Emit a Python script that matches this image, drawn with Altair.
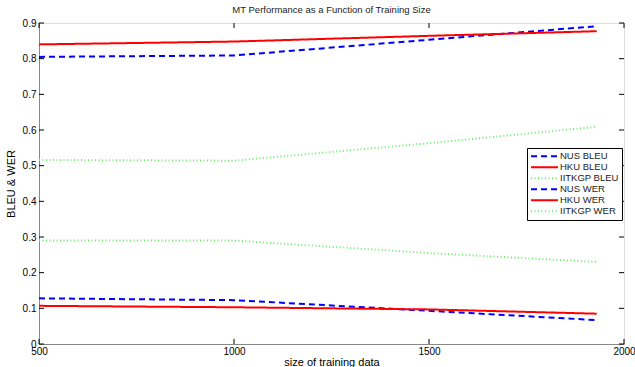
import altair as alt
import pandas as pd

sizes = [500, 1000, 1500, 1930]
series_names = ["NUS BLEU", "HKU BLEU", "IITKGP BLEU", "NUS WER", "HKU WER", "IITKGP WER"]
nus_bleu = [0.805, 0.809, 0.853, 0.891]
hku_bleu = [0.840, 0.848, 0.864, 0.877]
iitkgp_bleu = [0.516, 0.514, 0.563, 0.609]
nus_wer = [0.128, 0.123, 0.093, 0.067]
hku_wer = [0.107, 0.103, 0.097, 0.085]
iitkgp_wer = [0.290, 0.290, 0.255, 0.230]
y_ticks = [0, 0.1, 0.2, 0.3, 0.4, 0.5, 0.6, 0.7, 0.8, 0.9]
x_ticks = [500, 1000, 1500, 2000]

values = [nus_bleu, hku_bleu, iitkgp_bleu, nus_wer, hku_wer, iitkgp_wer]
rows = []
for name, vals in zip(series_names, values):
    for s, v in zip(sizes, vals):
        rows.append({"series": name, "size": s, "value": v})
df = pd.DataFrame(rows)

W, H = 585, 321
xscale = alt.Scale(domain=[500, 2000], nice=False, zero=False)
yscale = alt.Scale(domain=[0, 0.9], nice=False)

x_axis = alt.Axis(values=x_ticks, title="size of training data", tickSize=0,
                  labelPadding=2, titlePadding=0, format="d", grid=False,
                  labelFlush=False, labelOverlap=False, titleFontWeight="normal")
y_axis = alt.Axis(values=y_ticks, title="BLEU  &  WER", tickSize=0,
                  labelPadding=3, titlePadding=6, grid=False,
                  labelFlush=False, labelOverlap=False, titleFontWeight="normal",
                  labelExpr="datum.value == 0 ? '0' : format(datum.value, '.1f')")

colors = ["#0000ff", "#ff0000", "#66ee66", "#0000ff", "#ff0000", "#66ee66"]
dashes = [[6, 4], [1, 0], [1, 2.5], [6, 4], [1, 0], [1, 2.5]]
widths = [2, 2, 1.2, 2, 2, 1.2]

lines = alt.Chart(df).mark_line().encode(
    x=alt.X("size:Q", scale=xscale, axis=x_axis),
    y=alt.Y("value:Q", scale=yscale, axis=y_axis),
    color=alt.Color("series:N", scale=alt.Scale(domain=series_names, range=colors),
                    legend=alt.Legend(title=None, orient="none", legendX=488, legendY=125,
                                      fillColor="white", strokeColor="black", padding=3,
                                      rowPadding=0, clipHeight=10.7, symbolSize=729,
                                      symbolStrokeWidth=2,
                                      labelFontSize=9.5, labelFont="Liberation Sans",
                                      labelColor="#222", labelOffset=1, offset=0)),
    strokeDash=alt.StrokeDash("series:N", scale=alt.Scale(domain=series_names, range=dashes)),
    strokeWidth=alt.StrokeWidth("series:N", scale=alt.Scale(domain=series_names, range=widths),
                                legend=None),
)

ydf = pd.DataFrame({"v": y_ticks})
xdf = pd.DataFrame({"v": x_ticks})
yl = alt.Chart(ydf).mark_rule(color="black", strokeWidth=1).encode(
    y=alt.Y("v:Q", scale=yscale, axis=y_axis), x=alt.value(0), x2=alt.value(5))
yr = alt.Chart(ydf).mark_rule(color="black", strokeWidth=1).encode(
    y=alt.Y("v:Q", scale=yscale, axis=y_axis), x=alt.value(W - 5), x2=alt.value(W))
xb = alt.Chart(xdf).mark_rule(color="black", strokeWidth=1).encode(
    x=alt.X("v:Q", scale=xscale, axis=x_axis), y=alt.value(H), y2=alt.value(H - 5))
xt = alt.Chart(xdf).mark_rule(color="black", strokeWidth=1).encode(
    x=alt.X("v:Q", scale=xscale, axis=x_axis), y=alt.value(0), y2=alt.value(5))

chart = alt.layer(lines, yl, yr, xb, xt).properties(
    width=W, height=H,
    title=alt.TitleParams("MT Performance as a Function of Training Size", fontSize=9.5,
                          font="Liberation Sans", fontWeight="normal", color="#222",
                          offset=4, anchor="middle"),
    autosize=alt.AutoSizeParams(type="none"),
    padding={"left": 39, "top": 23, "right": 11, "bottom": 23},
).configure_view(stroke="black", strokeWidth=1.5).configure_axis(
    labelFont="Liberation Sans", titleFont="Liberation Sans", labelFontSize=9.5,
    titleFontSize=9.5, titleFontWeight="normal", labelColor="#222", titleColor="#222",
    domain=False
).configure(background="white")

chart.save("out.html", embed_options={"renderer": "svg", "actions": False})
